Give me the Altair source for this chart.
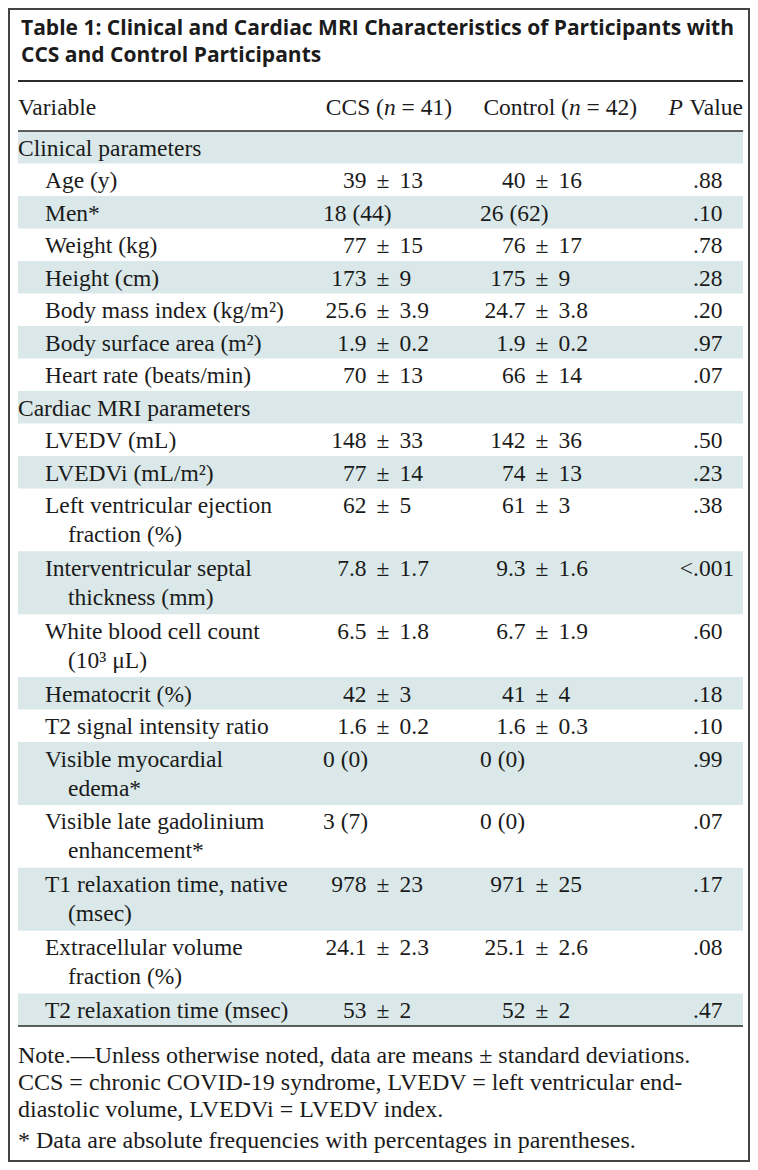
import altair as alt
import pandas as pd

# ---------------- data ----------------
title_lines = [
    "Table 1: Clinical and Cardiac MRI Characteristics of Participants with",
    "CCS and Control Participants",
]
sections = ["Clinical parameters", "Cardiac MRI parameters"]

clinical_vars = ["Age (y)", "Men*", "Weight (kg)", "Height (cm)",
                 "Body mass index (kg/m²)", "Body surface area (m²)",
                 "Heart rate (beats/min)"]
clinical_ccs = ["39 ± 13", "18 (44)", "77 ± 15", "173 ± 9", "25.6 ± 3.9", "1.9 ± 0.2", "70 ± 13"]
clinical_ctrl = ["40 ± 16", "26 (62)", "76 ± 17", "175 ± 9", "24.7 ± 3.8", "1.9 ± 0.2", "66 ± 14"]
clinical_p = [".88", ".10", ".78", ".28", ".20", ".97", ".07"]

cardiac_vars = ["LVEDV (mL)", "LVEDVi (mL/m²)",
                "Left ventricular ejection|fraction (%)",
                "Interventricular septal|thickness (mm)",
                "White blood cell count|(10³ μL)",
                "Hematocrit (%)", "T2 signal intensity ratio",
                "Visible myocardial|edema*",
                "Visible late gadolinium|enhancement*",
                "T1 relaxation time, native|(msec)",
                "Extracellular volume|fraction (%)",
                "T2 relaxation time (msec)"]
cardiac_ccs = ["148 ± 33", "77 ± 14", "62 ± 5", "7.8 ± 1.7", "6.5 ± 1.8", "42 ± 3",
               "1.6 ± 0.2", "0 (0)", "3 (7)", "978 ± 23", "24.1 ± 2.3", "53 ± 2"]
cardiac_ctrl = ["142 ± 36", "74 ± 13", "61 ± 3", "9.3 ± 1.6", "6.7 ± 1.9", "41 ± 4",
                "1.6 ± 0.3", "0 (0)", "0 (0)", "971 ± 25", "25.1 ± 2.6", "52 ± 2"]
cardiac_p = [".50", ".23", ".38", "<.001", ".60", ".18", ".10", ".99", ".07", ".17", ".08", ".47"]

note_lines = [
    "Note.—Unless otherwise noted, data are means ± standard deviations.",
    "CCS = chronic COVID-19 syndrome, LVEDV = left ventricular end-",
    "diastolic volume, LVEDVi = LVEDV index.",
    "* Data are absolute frequencies with percentages in parentheses.",
]

# ---------------- layout ----------------
SERIF = "Liberation Serif"
SANS = "Open Sans"
INK = "#1b1b1b"
BAND = "#dae8e9"
FS = 23.5
X0, X1 = 18, 743
INDENT, CONT = 45, 68
PM_CCS, PM_CTRL = 383, 542
PM_GAP = 16.5
CNT_CCS, CNT_CTRL = 323, 480
PDOT = 693
TOP = 131
H1, H2 = 32.5, 62.86
SP = 0.25 * FS          # space width

rows = [(sections[0], "", "", "", True)]
rows += [(v, a, b, p, False) for v, a, b, p in zip(clinical_vars, clinical_ccs, clinical_ctrl, clinical_p)]
rows += [(sections[1], "", "", "", True)]
rows += [(v, a, b, p, False) for v, a, b, p in zip(cardiac_vars, cardiac_ccs, cardiac_ctrl, cardiac_p)]

bands, lab, vl, vpm, vr, cnt, pl, pr = [], [], [], [], [], [], [], []
y = TOP
for i, (label, ccs, ctrl, p, is_sec) in enumerate(rows):
    lines = label.split("|")
    h = H1 if len(lines) == 1 else H2
    if i % 2 == 0:
        bands.append({"x": X0, "x2": X1, "y": y, "y2": y + h})
    base = y + 24.5
    for k, ln in enumerate(lines):
        lab.append({"x": X0 if is_sec else (INDENT if k == 0 else CONT), "y": base + 29 * k, "t": ln})
    for val, pm, cx in ((ccs, PM_CCS, CNT_CCS), (ctrl, PM_CTRL, CNT_CTRL)):
        if not val:
            continue
        if "±" in val:
            a, b = val.split(" ± ")
            vl.append({"x": pm - PM_GAP, "y": base, "t": a})
            vpm.append({"x": pm, "y": base, "t": "±"})
            vr.append({"x": pm + PM_GAP, "y": base, "t": b})
        else:
            cnt.append({"x": cx, "y": base, "t": val})
    if p:
        if p.startswith("<"):
            pr.append({"x": PDOT, "y": base, "t": "<"})
            pl.append({"x": PDOT, "y": base, "t": p[1:]})
        else:
            pl.append({"x": PDOT, "y": base, "t": p})
    y += h

xs = alt.Scale(domain=[8, 750], range=[0, 742])
ys = alt.Scale(domain=[8, 1162], range=[0, 1154])


def enc(ch):
    return ch.encode(x=alt.X("x:Q", scale=xs, axis=None),
                     y=alt.Y("y:Q", scale=ys, axis=None))


def txt(records, align="left", font=SERIF, size=FS, style="normal", weight="normal"):
    return enc(alt.Chart(pd.DataFrame(records)).mark_text(
        align=align, baseline="alphabetic", font=font, fontSize=size,
        fontStyle=style, fontWeight=weight, color=INK)).encode(text="t:N")


band_layer = alt.Chart(pd.DataFrame(bands)).mark_rect(color=BAND).encode(
    x=alt.X("x:Q", scale=xs, axis=None), x2="x2:Q",
    y=alt.Y("y:Q", scale=ys, axis=None), y2="y2:Q")

rules = pd.DataFrame([
    {"x": X0, "x2": X1, "y": 81, "w": 2.2},
    {"x": X0, "x2": X1, "y": 131, "w": 1.4},
    {"x": X0, "x2": X1, "y": 1026, "w": 1.4},
])
rule_layer = alt.Chart(rules).mark_rule(color="#2b2b2b").encode(
    x=alt.X("x:Q", scale=xs, axis=None), x2="x2:Q",
    y=alt.Y("y:Q", scale=ys, axis=None),
    size=alt.Size("w:Q", scale=None, legend=None))

frame = pd.DataFrame([{"x": 9, "x2": 749, "y": 9, "y2": 1161}])
frame_layer = alt.Chart(frame).mark_rect(filled=False, stroke="#444444", strokeWidth=2).encode(
    x=alt.X("x:Q", scale=xs, axis=None), x2="x2:Q",
    y=alt.Y("y:Q", scale=ys, axis=None), y2="y2:Q")

title_layer = txt([{"x": 21, "y": 35 + 27 * k, "t": t} for k, t in enumerate(title_lines)],
                  font=SANS, size=21, weight="bold")

# header row (mixed roman / italic)
HB = 115
ccs_start, ctrl_start = 325.8, 483.4
w_ccs, w_ctrl, w_n = 2.473 * FS, 3.639 * FS, 0.5 * FS
hdr_left = txt([{"x": X0, "y": HB, "t": "Variable"},
                {"x": ccs_start + w_ccs + w_n + SP, "y": HB, "t": "= 41)"},
                {"x": ctrl_start + w_ctrl + w_n + SP, "y": HB, "t": "= 42)"}])
hdr_right = txt([{"x": ccs_start + w_ccs, "y": HB, "t": "CCS ("},
                 {"x": ctrl_start + w_ctrl, "y": HB, "t": "Control ("},
                 {"x": X1, "y": HB, "t": "Value"}], align="right")
hdr_ital = txt([{"x": ccs_start + w_ccs, "y": HB, "t": "n"},
                {"x": ctrl_start + w_ctrl, "y": HB, "t": "n"}], style="italic")
hdr_p = txt([{"x": X1 - 2.388 * FS - 4, "y": HB, "t": "P"}], align="right", style="italic")

note_y = [1063, 1090, 1117, 1148]
note_layer = txt([{"x": X0, "y": yy, "t": t} for yy, t in zip(note_y, note_lines)], size=24)

layers = [band_layer, rule_layer, frame_layer, title_layer,
          hdr_left, hdr_right, hdr_ital, hdr_p,
          txt(lab), txt(vl, align="right"), txt(vpm, align="center"), txt(vr),
          txt(cnt), txt(pl), note_layer]
if pr:
    layers.append(txt(pr, align="right"))

chart = alt.layer(*layers).properties(
    width=742, height=1154, padding=0, autosize="none", background="white"
).configure_view(stroke=None)

chart.save("out.html", embed_options={"renderer": "svg", "actions": False})
